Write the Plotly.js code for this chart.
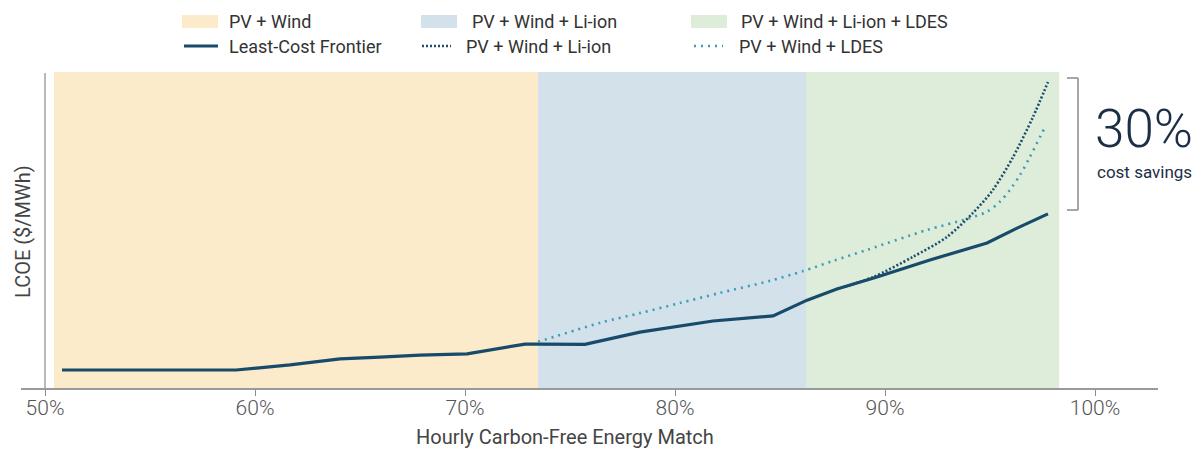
<!DOCTYPE html>
<html><head><meta charset="utf-8">
<script src="https://cdn.plot.ly/plotly-3.0.1.min.js"></script>
<style>html,body{margin:0;padding:0;background:#fff}#chart{width:1200px;height:449px}</style>
</head><body><div id="chart"></div><script>
// ---- data ----
const bandNames = ['PV + Wind', 'PV + Wind + Li-ion', 'PV + Wind + Li-ion + LDES'];
const bandStart = [50.43, 73.48, 86.24];
const bandEnd   = [73.48, 86.24, 98.29];

const lineNames = ['Least-Cost Frontier', 'PV + Wind + Li-ion', 'PV + Wind + LDES'];

const frontierX = [50.81, 59.10, 61.67, 64.05, 65.95, 67.86, 70.10, 71.19, 72.86, 73.48, 75.71, 78.33, 81.81, 84.67, 86.29, 87.71, 89.62, 92.14, 94.86, 96.29, 97.76];
const frontierY = [5.7, 5.7, 7.3, 9.2, 9.8, 10.4, 10.8, 12.0, 13.9, 13.9, 13.8, 17.7, 21.2, 22.8, 27.8, 31.3, 35.1, 40.5, 45.9, 50.6, 55.1];

const liionX = [87.71, 89.43, 91.33, 92.95, 94.19, 95.14, 96.10, 97.05, 97.76];
const liionY = [31.3, 35.1, 41.5, 47.8, 55.4, 62.7, 73.1, 85.8, 96.8];

const ldesX = [73.48, 76.43, 78.33, 80.24, 82.14, 84.52, 86.10, 87.52, 89.14, 92.00, 93.90, 94.86, 95.48, 95.95, 96.43, 96.90, 97.62];
const ldesY = [14.6, 20.6, 23.7, 26.9, 30.1, 33.9, 37.0, 40.2, 43.7, 50.0, 53.5, 55.8, 59.0, 62.7, 67.4, 73.1, 82.6];

const xTicks = [50, 60, 70, 80, 90, 100];
const savingsText = '30%';
const savingsSub = 'cost savings';

// ---- styles ----
const bandColors = ['#FBEBCA', '#D3E1EA', '#DDEDDA'];
const navy = '#174A6B';
const darkDot = '#1E4E6E';
const lightDot = '#3C9BBC';
const FONT = 'Roboto, "Open Sans", sans-serif';

const W = 1200, H = 449;
const M = {l: 21, r: 42, t: 72, b: 61};
const pw = W - M.l - M.r, ph = H - M.t - M.b;
const PX = x => (x - M.l) / pw;
const PY = y => (H - M.b - y) / ph;

const traces = [
  {x: frontierX, y: frontierY, name: lineNames[0], type: 'scatter', mode: 'lines',
   line: {color: navy, width: 3.2}, hoverinfo: 'skip'},
  {x: ldesX, y: ldesY, name: lineNames[2], type: 'scatter', mode: 'lines',
   line: {color: lightDot, width: 2.6, dash: '2px,5px', shape: 'spline', smoothing: 0.8}, hoverinfo: 'skip'},
  {x: liionX, y: liionY, name: lineNames[1], type: 'scatter', mode: 'lines',
   line: {color: darkDot, width: 2.6, dash: '2px,2px', shape: 'spline', smoothing: 0.8}, hoverinfo: 'skip'}
];

const shapes = [];
bandNames.forEach((n, i) => {
  shapes.push({type: 'rect', xref: 'x', yref: 'paper', x0: bandStart[i], x1: bandEnd[i], y0: 0, y1: 1,
    fillcolor: bandColors[i], line: {width: 0}, layer: 'below'});
});
// y axis line at 50%
shapes.push({type: 'line', xref: 'x', yref: 'paper', x0: 50, x1: 50, y0: 0, y1: PY(73),
  line: {color: '#8a8a8a', width: 1.2}});
// bracket
shapes.push({type: 'line', xref: 'paper', yref: 'paper', x0: PX(1067), x1: PX(1078), y0: PY(78), y1: PY(78), line: {color: '#8a8a8a', width: 1.5}});
shapes.push({type: 'line', xref: 'paper', yref: 'paper', x0: PX(1078), x1: PX(1078), y0: PY(78), y1: PY(210), line: {color: '#8a8a8a', width: 1.5}});
shapes.push({type: 'line', xref: 'paper', yref: 'paper', x0: PX(1067), x1: PX(1078), y0: PY(210), y1: PY(210), line: {color: '#8a8a8a', width: 1.5}});

// manual legend
const row1 = {patch: [[182, 218], [421, 457], [691, 727]], text: [227, 470, 739], y: 21.5};
const row2 = {line: [[184, 218], [422, 451], [694, 723]], text: [227, 464, 737], y: 46};
const lineStyles = [
  {color: navy, width: 3, dash: 'solid'},
  {color: darkDot, width: 2.4, dash: '2px,2px'},
  {color: lightDot, width: 2.4, dash: '2px,5px'}
];
const annotations = [];
bandNames.forEach((n, i) => {
  shapes.push({type: 'rect', xref: 'paper', yref: 'paper', x0: PX(row1.patch[i][0]), x1: PX(row1.patch[i][1]),
    y0: PY(row1.y + 6.5), y1: PY(row1.y - 6.5), fillcolor: bandColors[i], line: {width: 0}});
  annotations.push({xref: 'paper', yref: 'paper', x: PX(row1.text[i]), y: PY(row1.y), text: n, showarrow: false,
    xanchor: 'left', yanchor: 'middle', font: {family: FONT, size: 18, color: '#333'}});
});
lineNames.forEach((n, i) => {
  shapes.push({type: 'line', xref: 'paper', yref: 'paper', x0: PX(row2.line[i][0]), x1: PX(row2.line[i][1]),
    y0: PY(row2.y), y1: PY(row2.y), line: lineStyles[i]});
  annotations.push({xref: 'paper', yref: 'paper', x: PX(row2.text[i]), y: PY(row2.y), text: n, showarrow: false,
    xanchor: 'left', yanchor: 'middle', font: {family: FONT, size: 18, color: '#333'}});
});

// savings text
annotations.push({xref: 'paper', yref: 'paper', x: PX(1144), y: PY(129), text: savingsText, showarrow: false,
  xanchor: 'center', yanchor: 'middle', font: {family: FONT, size: 53, weight: 300, color: '#1C2E45'}});
annotations.push({xref: 'paper', yref: 'paper', x: PX(1144), y: PY(172), text: savingsSub, showarrow: false,
  xanchor: 'center', yanchor: 'middle', font: {family: FONT, size: 17, color: '#1C2E45'}});
// axis titles
annotations.push({xref: 'paper', yref: 'paper', x: PX(565), y: PY(437), text: 'Hourly Carbon-Free Energy Match', showarrow: false,
  xanchor: 'center', yanchor: 'middle', font: {family: FONT, size: 20, color: '#444'}});
annotations.push({xref: 'paper', yref: 'paper', x: PX(23), y: PY(232), text: 'LCOE ($/MWh)', showarrow: false, textangle: -90,
  xanchor: 'center', yanchor: 'middle', font: {family: FONT, size: 20, color: '#444'}});

const layout = {
  width: W, height: H, margin: M,
  paper_bgcolor: '#fff', plot_bgcolor: '#fff',
  showlegend: false,
  font: {family: FONT},
  xaxis: {
    range: [50 - (45 - M.l) / 21, 100 + (W - M.r - 1095) / 21],
    tickvals: xTicks, ticktext: xTicks.map(v => v + '%'),
    showgrid: false, zeroline: false,
    showline: true, linecolor: '#9a9a9a', linewidth: 2,
    ticks: 'outside', ticklen: 6, tickwidth: 1, tickcolor: '#8a8a8a',
    ticklabelstandoff: -6,
    tickfont: {family: FONT, size: 21, weight: 300, color: '#555'},
    fixedrange: true
  },
  yaxis: {
    range: [0, 100], showticklabels: false, showgrid: false, zeroline: false, showline: false, ticks: '',
    fixedrange: true
  },
  shapes: shapes,
  annotations: annotations
};

Plotly.newPlot('chart', traces, layout, {displayModeBar: false, staticPlot: true});
</script></body></html>
